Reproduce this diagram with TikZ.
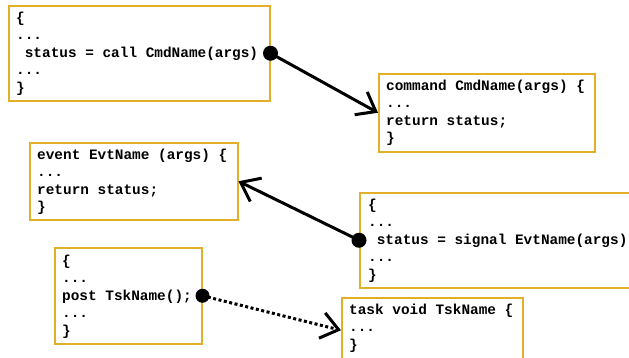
\documentclass[tikz,border=0pt]{standalone}
\usepackage{fontspec}
\newfontfamily\codefont{Liberation Mono}
\usetikzlibrary{arrows.meta}
\definecolor{boxline}{RGB}{225,175,40}
\newcommand{\spc}{\hspace*{0.6em}}
\begin{document}
\begin{tikzpicture}[x=1pt,y=-1pt,
  box/.style={draw=boxline, line width=1.5pt, fill=white, inner sep=0pt, anchor=north west},
  code/.style={anchor=base west, inner sep=0pt, text width=300pt, align=left,
    font=\fontsize{14.4}{17.5}\selectfont\codefont\bfseries},
  conn/.style={line width=3pt, -{Straight Barb[length=17pt,width=26pt]}},
  dotted conn/.style={conn, dash pattern=on 3pt off 2.5pt},
  dotc/.style={fill=black}]
\useasboundingbox (0,0) rectangle (629,357);
\clip (0,0) rectangle (629,357);
% boxes
\node[box, minimum width=261pt, minimum height=95pt] (b1) at (8,5) {};
\node[box, minimum width=216pt, minimum height=78pt] (b2) at (378,73) {};
\node[box, minimum width=208pt, minimum height=77pt] (b3) at (29,142) {};
\node[box, minimum width=280pt, minimum height=95pt] (b4) at (359,192) {};
\node[box, minimum width=147pt, minimum height=96pt] (b5) at (54,247) {};
\node[box, minimum width=181pt, minimum height=65pt] (b6) at (341,297) {};
% texts
\node[code] (t1) at (16,22) {\{\\...\\\spc status\spc=\spc call\spc CmdName(args)\\...\\\}};
\node[code] (t2) at (386,90) {command\spc CmdName(args)\spc\{\\...\\return\spc status;\\\}};
\node[code] (t3) at (37,159) {event\spc EvtName\spc(args)\spc\{\\...\\return\spc status;\\\}};
\node[code] (t4) at (368,209) {\{\\...\\\spc status\spc=\spc signal\spc EvtName(args)\\...\\\}};
\node[code] (t5) at (62,265) {\{\\...\\post\spc TskName();\\...\\\}};
\node[code] (t6) at (349,314) {task\spc void\spc TskName\spc\{\\...\\\}};
% connectors
\draw[conn] (b1.east) -- (b2.west);
\draw[conn] (b4.west) -- (b3.east);
\draw[dotted conn] (b5.east) -- (b6.west);
\fill[dotc] (b1.east) circle[radius=7.5];
\fill[dotc] (b4.west) circle[radius=7.5];
\fill[dotc] (b5.east) circle[radius=7];
\end{tikzpicture}
\end{document}
